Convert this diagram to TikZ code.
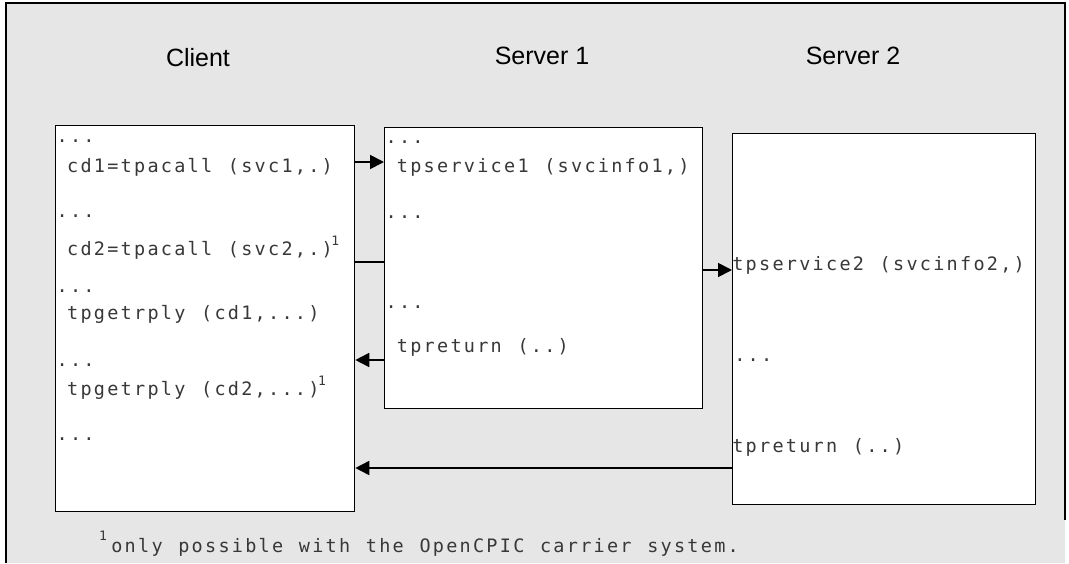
\documentclass[tikz,border=0pt]{standalone}
\usepackage{fontspec}
\setmainfont{Liberation Sans}
\newfontfamily\codefont{DejaVu Sans Mono}
\usetikzlibrary{arrows.meta}
\definecolor{bg}{RGB}{230,230,230}
\newlength\cellw \setlength\cellw{13.4pt}
\makeatletter
\def\mono#1{\mono@a#1\relax}
\def\mono@a#1{\ifx#1\relax\else\makebox[\cellw][c]{#1}\expandafter\mono@a\fi}
\makeatother
\newcommand\supone{\kern-2.5pt\raisebox{10pt}{\fontsize{13}{13}\selectfont 1}}
\tikzset{
  box/.style={draw, line width=1.3pt, fill=white, inner sep=0pt, anchor=north west},
  code/.style={anchor=base west, inner sep=0pt, font=\codefont\fontsize{18.5}{18.5}\selectfont, text=black!78},
  title/.style={anchor=base, inner sep=0pt, font=\fontsize{25}{25}\selectfont},
  conn/.style={line width=1.7pt},
  arr/.style={conn, -{Triangle[length=14pt,width=14pt]}},
}
\begin{document}
\begin{tikzpicture}[x=1pt,y=-1pt]
\useasboundingbox (0,0) rectangle (1069,563);
% frame
\fill[bg] (6,3) rectangle (1065,563);
\draw[line width=1.3pt] (6,563) -- (6,3) -- (1065,3) -- (1065,520);
% titles
\node[title] (tclient) at (198,66) {Client};
\node[title] (ts1) at (542,64) {Server 1};
\node[title] (ts2) at (853,64) {Server 2};
% boxes
\node[box, minimum width=299pt, minimum height=386pt] (client) at (55,125) {};
\node[box, minimum width=318pt, minimum height=281pt] (s1) at (384,127) {};
\node[box, minimum width=303pt, minimum height=371pt] (s2) at (732,133) {};
% client text
\node[code] (c1) at (55.3,142) {\mono{...}};
\node[code] (c2) at (65.8,172) {\mono{cd1=tpacall~(svc1,.)}};
\node[code] (c3) at (55.3,217) {\mono{...}};
\node[code] (c4) at (65.8,255) {\mono{cd2=tpacall~(svc2,.)}\supone};
\node[code] (c5) at (55.3,292) {\mono{...}};
\node[code] (c6) at (65.8,319) {\mono{tpgetrply~(cd1,...)}};
\node[code] (c7) at (55.3,366) {\mono{...}};
\node[code] (c8) at (65.8,395) {\mono{tpgetrply~(cd2,...)}\supone};
\node[code] (c9) at (55.3,440) {\mono{...}};
% server 1 text
\node[code] (a1) at (384.3,143) {\mono{...}};
\node[code] (a2) at (395.6,172) {\mono{tpservice1~(svcinfo1,)}};
\node[code] (a3) at (384.3,218) {\mono{...}};
\node[code] (a4) at (384.3,308) {\mono{...}};
\node[code] (a5) at (395.6,352) {\mono{tpreturn~(..)}};
% server 2 text
\node[code] (b1) at (731,270) {\mono{tpservice2~(svcinfo2,)}};
\node[code] (b2) at (733,361) {\mono{...}};
\node[code] (b3) at (731,452) {\mono{tpreturn~(..)}};
% footnote
\node[code, font=\codefont\fontsize{13}{13}\selectfont, anchor=base] (fnmark) at (103,540) {1};
\node[code] (fn) at (110,552) {\mono{only~possible~with~the~OpenCPIC~carrier~system.}};
% connectors
\coordinate (y1) at (0,162);
\coordinate (y2) at (0,262);
\coordinate (y3) at (0,270);
\coordinate (y4) at (0,360);
\coordinate (y5) at (0,468);
\draw[arr] (client.east |- y1) -- (s1.west |- y1);
\draw[conn] (client.east |- y2) -- (s1.west |- y2);
\draw[arr] (s1.east |- y3) -- (s2.west |- y3);
\draw[arr] (s1.west |- y4) -- (client.east |- y4);
\draw[arr] (s2.west |- y5) -- (client.east |- y5);
\end{tikzpicture}
\end{document}
